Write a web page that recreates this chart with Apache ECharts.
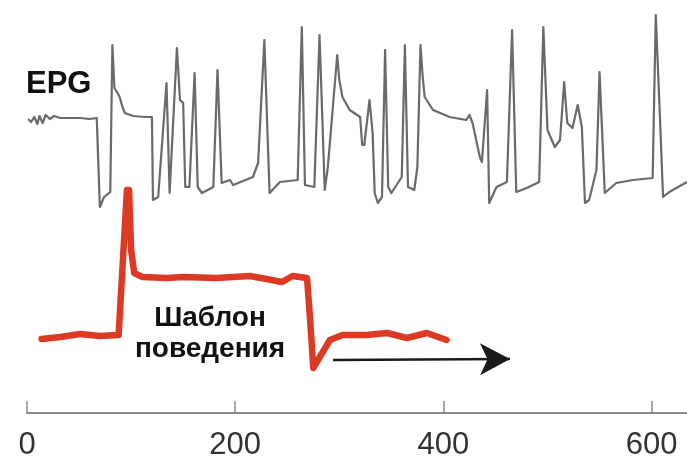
<!DOCTYPE html>
<html>
<head>
<meta charset="utf-8">
<script src="https://cdn.jsdelivr.net/npm/echarts@6/dist/echarts.min.js"></script>
<style>
  html, body { margin: 0; padding: 0; background: #fff; }
  #chart { width: 687px; height: 459px; }
</style>
</head>
<body>
<div id="chart"></div>
<script>
// EPG trace (x in axis units, y = height above axis line)
var epgX = [1, 4, 7, 10, 12, 15, 18, 22, 26, 32, 41, 51, 60, 67, 70, 74, 80, 82, 84, 87, 89, 92, 94, 102, 113, 120,
  121, 126, 134, 137, 144, 147, 150, 152, 156, 161, 164, 168, 179, 183, 187, 195, 198, 217, 222, 228, 233,
  243, 260, 264, 267, 276, 281, 286, 289, 298, 300, 303, 310, 320, 322, 324, 329, 332, 334, 337, 341, 344, 347,
  350, 360, 363, 366, 372, 375, 378, 380, 382, 390, 406, 422, 425, 428, 435, 437, 442, 444, 451, 461, 466, 470,
  480, 492, 496, 500, 507, 512, 516, 519, 524, 529, 533, 536, 540, 547, 550, 555, 566, 582, 601, 604, 608,
  611, 617, 634];
var epgY = [294, 291, 296, 289, 297, 290, 298, 294, 297, 295, 295, 295, 294, 295, 206, 216, 221, 368, 325, 320, 316, 305, 300, 297, 296, 296,
  213, 216, 330, 220, 365, 313, 310, 226, 226, 340, 226, 220, 226, 343, 230, 233, 228, 236, 250, 373, 220,
  231, 233, 386, 228, 226, 378, 223, 246, 358, 333, 316, 303, 296, 268, 268, 313, 280, 220, 210, 216, 363, 226,
  220, 236, 368, 226, 223, 246, 368, 338, 316, 303, 296, 293, 298, 290, 256, 251, 323, 210, 226, 231, 383, 221,
  225, 231, 386, 283, 266, 273, 331, 290, 285, 308, 286, 210, 213, 243, 341, 220, 230, 233, 235, 398, 296,
  216, 221, 231];

// behaviour pattern (red)
var patternX = [14, 32, 51, 70, 88, 96, 98, 100, 103, 111, 134, 150, 182, 214, 230, 245, 255, 269, 272, 275,
  291, 303, 326, 346, 365, 384, 403];
var patternY = [74, 76, 79, 77, 78, 223, 223, 163, 140, 136, 135, 136, 135, 137, 134, 131, 137, 135, 93, 45,
  73, 78, 78, 80, 75, 80, 73];

// time arrow
var arrowX = [294, 464];
var arrowY = [53, 54];

var tickValues = [0, 200, 400, 600];

function zip(xs, ys) {
  return xs.map(function (x, i) { return [x, ys[i]]; });
}

var chart = echarts.init(document.getElementById('chart'));
chart.setOption({
  animation: false,
  backgroundColor: '#fff',
  grid: { left: 27, right: 0, top: 0, bottom: 46, outerBoundsMode: 'none' },
  xAxis: {
    type: 'value',
    min: 0,
    max: 634,
    interval: 200,
    splitLine: { show: false },
    axisLine: { show: true, lineStyle: { color: '#8a8a8a', width: 2 } },
    axisTick: { show: true, inside: true, length: 12, lineStyle: { color: '#8a8a8a', width: 1.5 }, customValues: tickValues },
    axisLabel: {
      customValues: tickValues,
      margin: 17,
      color: '#333',
      fontSize: 31,
      fontFamily: 'Liberation Sans'
    }
  },
  yAxis: { type: 'value', min: 0, max: 413, show: false },
  graphic: [
    { type: 'text', left: 26, top: 69,
      style: { text: 'EPG', fill: '#111', font: 'bold 31px "Liberation Sans"' } },
    { type: 'text', x: 210, y: 334,
      style: { text: 'Шаблон\nповедения', fill: '#111', font: 'bold 28px "Liberation Sans"',
        align: 'center', verticalAlign: 'middle', lineHeight: 31 } }
  ],
  series: [
    {
      name: 'EPG',
      type: 'line',
      data: zip(epgX, epgY),
      showSymbol: false,
      clip: false,
      lineStyle: { color: '#6a6a6a', width: 2.2, join: 'round' }
    },
    {
      name: 'Шаблон поведения',
      type: 'line',
      data: zip(patternX, patternY),
      showSymbol: false,
      clip: false,
      lineStyle: { color: '#dd3a25', width: 6.5, join: 'round', cap: 'round' },
      markLine: {
        silent: true,
        symbol: ['none', 'arrow'],
        symbolSize: [24, 30],
        label: { show: false },
        lineStyle: { color: '#1a1a1a', width: 2.5, type: 'solid' },
        data: [[{ coord: [arrowX[0], arrowY[0]] }, { coord: [arrowX[1], arrowY[1]] }]]
      }
    }
  ]
});
</script>
</body>
</html>
